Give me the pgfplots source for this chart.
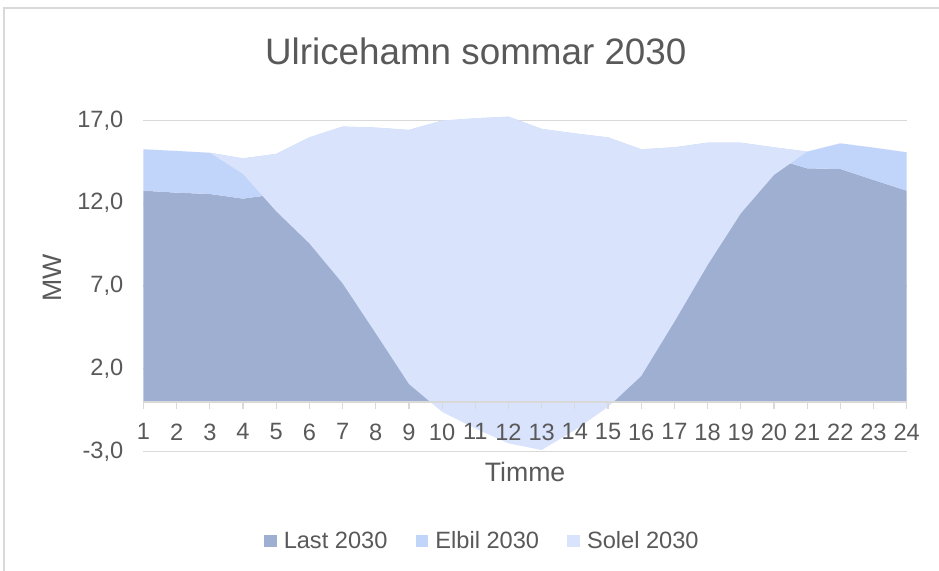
\documentclass[border=0pt]{standalone}
\usepackage{fontspec}
\setmainfont{Liberation Sans}
\usepackage{pgfplots}
\usepackage{pgfplotstable}
\usepgfplotslibrary{fillbetween}
\pgfplotsset{compat=1.18}
\definecolor{lastc}{RGB}{159,175,209}
\definecolor{elbilc}{RGB}{193,212,250}
\definecolor{solelc}{RGB}{217,227,252}
\definecolor{txt}{RGB}{89,89,89}
\definecolor{gridc}{RGB}{217,217,217}
\pgfplotsset{
  layers/mylayers/.define layer set={axis background,axis grid,pre main,main,axis ticks,axis lines,axis tick labels,axis descriptions,axis foreground}{/pgfplots/layers/standard},
}
% h = timme, L = Last 2030, E = Elbil 2030, S = Solel 2030 (MW), stacked
\pgfplotstableread{
h  L      E     S
1  12.76  2.50  0.00
2  12.64  2.52  0.00
3  12.56  2.49  0.00
4  12.28  2.43  -0.94
5  12.55  2.43  -3.46
6  13.58  2.40  -6.40
7  14.23  2.40  -9.46
8  14.17  2.40  -12.42
9  14.03  2.40  -15.34
10 14.59  2.40  -17.59
11 14.73  2.40  -18.73
12 14.83  2.40  -19.73
13 14.09  2.40  -19.39
14 13.82  2.40  -17.92
15 13.58  2.40  -16.28
16 12.86  2.40  -13.69
17 12.98  2.40  -10.53
18 13.26  2.40  -7.39
19 14.60  1.06  -4.27
20 14.70  0.68  -1.67
21 14.11  1.01  0.00
22 14.07  1.55  0.00
23 13.41  1.95  0.00
24 12.76  2.32  0.00
}\data
\begin{document}
\begin{tikzpicture}
\draw[gridc, line width=0.9pt] (3pt,0) -- (3pt,422.25pt) -- (704.25pt,422.25pt);
\node[text=txt, font=\fontsize{27.6}{32}\selectfont, anchor=center, inner sep=0pt] at (356.85pt, 389.8pt) {Ulricehamn sommar 2030};
\begin{axis}[
  set layers=mylayers,
  clip=false,
  at={(107.6pt,89.5pt)}, anchor=south west,
  scale only axis, width=572.4pt, height=248.4pt,
  xmin=1, xmax=24, ymin=-3, ymax=17,
  axis x line=middle, axis y line=left,
  hide obscured x ticks=false, hide obscured y ticks=false,
  every inner x axis line/.append style={-},
  x axis line style={-, gridc, line width=0.9pt},
  y axis line style={draw=none},
  xtick={1,...,24}, ytick={-3,2,7,12,17},
  yticklabels={{-3,0},{2,0},{7,0},{12,0},{17,0}},
  ymajorgrids, grid style={gridc, line width=0.9pt},
  tick align=outside, major tick length=5pt,
  xtick style={gridc, line width=0.9pt},
  ytick style={draw=none},
  /pgf/number format/assume math mode=true,
  tick label style={text=txt, font=\fontsize{17.7}{20}\selectfont},
  xticklabel style={anchor=north, inner sep=0pt, yshift=-11pt},
  yticklabel style={anchor=east, inner sep=0pt, xshift=-10pt},
  xlabel={Timme}, ylabel={MW},
  every axis x label/.style={at={(axis description cs:0.5,0)}, anchor=center, yshift=-15pt, text=txt, font=\fontsize{20}{24}\selectfont, inner sep=0pt},
  every axis y label/.style={at={(axis description cs:-0.1191,0.5236)}, rotate=90, anchor=center, text=txt, font=\fontsize{20}{24}\selectfont, inner sep=0pt},
  legend style={at={(0.4445,-0.2696)}, anchor=center, draw=none, fill=none, legend columns=3, font=\fontsize{17.7}{20}\selectfont, text=txt, /tikz/every even column/.append style={column sep=19.3pt}, /tikz/every odd column/.append style={column sep=3.2pt}},
  legend image code/.code={\fill[#1] (0pt,-4.75pt) rectangle (9.5pt,4.75pt);},
]
\addplot[draw=none, forget plot, name path=zero] coordinates {(1,0) (24,0)};
\addplot[draw=none, forget plot, name path=L] table[x=h, y=L]{\data};
\addplot[draw=none, forget plot, name path=T] table[x=h, y expr=\thisrow{L}+\thisrow{E}]{\data};
\addplot[draw=none, forget plot, name path=N] table[x=h, y expr=\thisrow{L}+\thisrow{E}+\thisrow{S}]{\data};
\addplot[fill=lastc, draw=none, forget plot] fill between[of=L and zero];
\addplot[fill=elbilc, draw=none, forget plot] fill between[of=T and L];
\addplot[fill=solelc, draw=none, forget plot] fill between[of=T and N];
\addlegendimage{fill=lastc, draw=none}
\addlegendentry{Last 2030}
\addlegendimage{fill=elbilc, draw=none}
\addlegendentry{Elbil 2030}
\addlegendimage{fill=solelc, draw=none}
\addlegendentry{Solel 2030}
\end{axis}
\pgfresetboundingbox
\path[use as bounding box] (0,0) rectangle (704.25pt,428.25pt);
\end{tikzpicture}
\end{document}
